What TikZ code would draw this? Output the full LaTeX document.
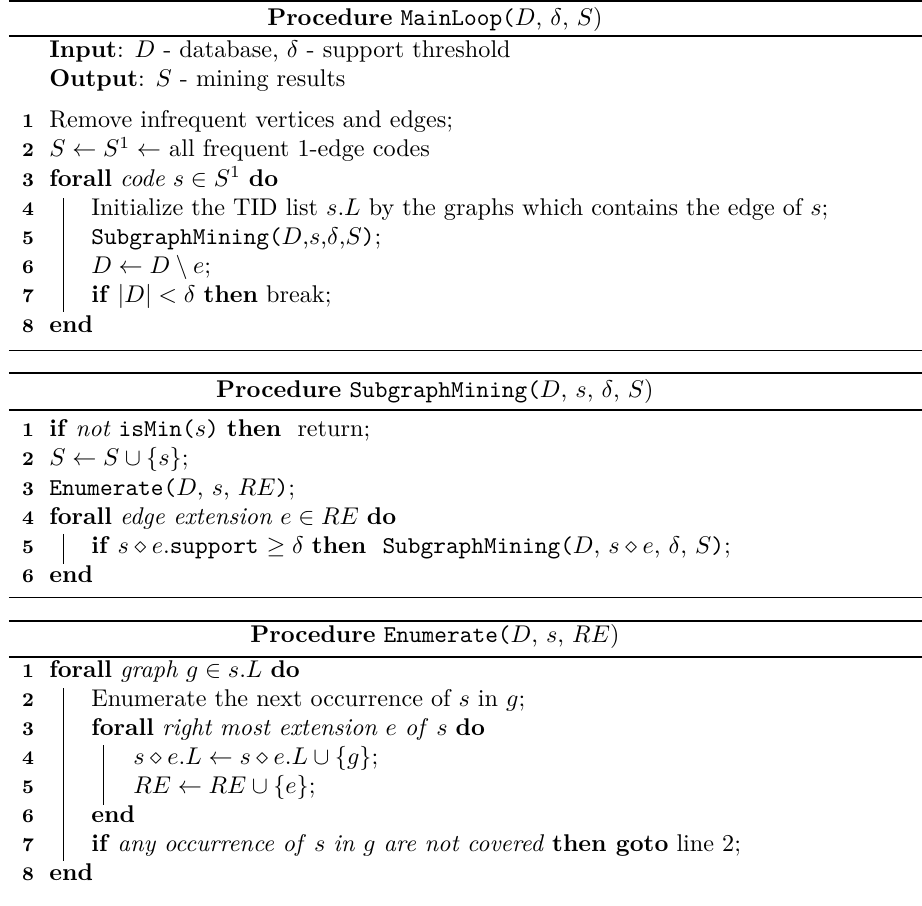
\documentclass[tikz,border=0pt]{standalone}
\usepackage{amsmath,amssymb}

\begin{document}
\begin{tikzpicture}[txt/.style={anchor=base west,inner sep=0pt},
  num/.style={anchor=base east,inner sep=0pt,font=\footnotesize\bfseries},
  ttl/.style={anchor=base,inner sep=0pt}]
\def\xL{0.13}
\def\xR{13.40}
\def\xNum{0.50}
\def\xZero{0.71}
\def\xOne{1.32}
\def\xTwo{1.93}
\def\barOne{0.92}
\def\barTwo{1.51}
\def\xTitle{6.32}
\useasboundingbox (0,0) rectangle (\xR,-13.16);
  %\draw[help lines] (0,0) grid (14,-14);

% rules of the three boxes
\begin{scope}[every path/.style=draw,line width=0.8pt]
\path (\xL,-0.02) -- (\xR,-0.02);
\path (\xL,-0.52) -- (\xR,-0.52);
\path (\xL,-5.42) -- (\xR,-5.42);
\path (\xL,-5.96) -- (\xR,-5.96);
\path (\xL,-9.02) -- (\xR,-9.02);
\path (\xL,-9.55) -- (\xR,-9.55);
\end{scope}
\begin{scope}[every path/.style=draw,line width=0.4pt]
\path (\xL,-5.10) -- (\xR,-5.10);
\path (\xL,-8.69) -- (\xR,-8.69);
\end{scope}

% MainLoop
\path
(\xTitle,-0.37) node [ttl] (mlT) {\textbf{Procedure} \texttt{MainLoop(}$D$, $\delta$, $S$)}
(\xZero,-0.84) node [txt] (mlIn) {\textbf{Input}: $D$ - database, $\delta$ - support threshold}
(\xZero,-1.26) node [txt] (mlOut) {\textbf{Output}: $S$ - mining results}
(\xNum,-1.86) node [num] (mlN1) {1}
(\xNum,-2.28) node [num] (mlN2) {2}
(\xNum,-2.71) node [num] (mlN3) {3}
(\xNum,-3.13) node [num] (mlN4) {4}
(\xNum,-3.56) node [num] (mlN5) {5}
(\xNum,-3.98) node [num] (mlN6) {6}
(\xNum,-4.40) node [num] (mlN7) {7}
(\xNum,-4.83) node [num] (mlN8) {8}
(\xZero,-1.86) node [txt] (ml1) {Remove infrequent vertices and edges;}
(\xZero,-2.28) node [txt] (ml2) {$S \leftarrow S^1 \leftarrow$ all frequent 1-edge codes}
(\xZero,-2.71) node [txt] (ml3) {\textbf{forall} \textit{code} $s \in S^1$ \textbf{do}}
(\xOne,-3.13) node [txt] (ml4) {Initialize the TID list $s.L$ by the graphs which contains the edge of $s$;}
(\xOne,-3.56) node [txt] (ml5) {\texttt{SubgraphMining(}$D$,$s$,$\delta$,$S$\texttt{)};}
(\xOne,-3.98) node [txt] (ml6) {$D \leftarrow D \setminus e$;}
(\xOne,-4.40) node [txt] (ml7) {\textbf{if} $|D| < \delta$ \textbf{then} break;}
(\xZero,-4.83) node [txt] (ml8) {\textbf{end}}
;
\draw (\barOne,-2.88) -- (\barOne,-4.53);

% SubgraphMining
\path
(\xTitle,-5.77) node [ttl] (smT) {\textbf{Procedure} \texttt{SubgraphMining(}$D$, $s$, $\delta$, $S$)}
(\xNum,-6.35) node [num] (smN1) {1}
(\xNum,-6.77) node [num] (smN2) {2}
(\xNum,-7.20) node [num] (smN3) {3}
(\xNum,-7.62) node [num] (smN4) {4}
(\xNum,-8.05) node [num] (smN5) {5}
(\xNum,-8.47) node [num] (smN6) {6}
(\xZero,-6.35) node [txt] (sm1) {\textbf{if} \textit{not} \texttt{isMin(}$s$\texttt{)} \textbf{then}\ \ return;}
(\xZero,-6.77) node [txt] (sm2) {$S \leftarrow S \cup \{s\}$;}
(\xZero,-7.20) node [txt] (sm3) {\texttt{Enumerate(}$D$, $s$, $RE$\texttt{)};}
(\xZero,-7.62) node [txt] (sm4) {\textbf{forall} \textit{edge extension} $e \in RE$ \textbf{do}}
(\xOne,-8.05) node [txt] (sm5) {\textbf{if} $s \diamond e.$\texttt{support} $\geq \delta$ \textbf{then}\ \ \texttt{SubgraphMining(}$D$, $s \diamond e$, $\delta$, $S$\texttt{)};}
(\xZero,-8.47) node [txt] (sm6) {\textbf{end}}
;
\draw (\barOne,-7.76) -- (\barOne,-8.19);

% Enumerate
\path
(\xTitle,-9.34) node [ttl] (enT) {\textbf{Procedure} \texttt{Enumerate(}$D$, $s$, $RE$)}
(\xNum,-9.85) node [num] (enN1) {1}
(\xNum,-10.27) node [num] (enN2) {2}
(\xNum,-10.69) node [num] (enN3) {3}
(\xNum,-11.11) node [num] (enN4) {4}
(\xNum,-11.53) node [num] (enN5) {5}
(\xNum,-11.95) node [num] (enN6) {6}
(\xNum,-12.37) node [num] (enN7) {7}
(\xNum,-12.79) node [num] (enN8) {8}
(\xZero,-9.85) node [txt] (en1) {\textbf{forall} \textit{graph} $g \in s.L$ \textbf{do}}
(\xOne,-10.27) node [txt] (en2) {Enumerate the next occurrence of $s$ in $g$;}
(\xOne,-10.69) node [txt] (en3) {\textbf{forall} \textit{right most extension} $e$ \textit{of} $s$ \textbf{do}}
(\xTwo,-11.11) node [txt] (en4) {$s \diamond e.L \leftarrow s \diamond e.L \cup \{g\}$;}
(\xTwo,-11.53) node [txt] (en5) {$RE \leftarrow RE \cup \{e\}$;}
(\xOne,-11.95) node [txt] (en6) {\textbf{end}}
(\xOne,-12.37) node [txt] (en7) {\textbf{if} \textit{any occurrence of} $s$ \textit{in} $g$ \textit{are not covered} \textbf{then goto} line 2;}
(\xZero,-12.79) node [txt] (en8) {\textbf{end}}
;
\draw (\barOne,-10.00) -- (\barOne,-12.51);
\draw (\barTwo,-10.83) -- (\barTwo,-11.70);
\end{tikzpicture}
\end{document}
